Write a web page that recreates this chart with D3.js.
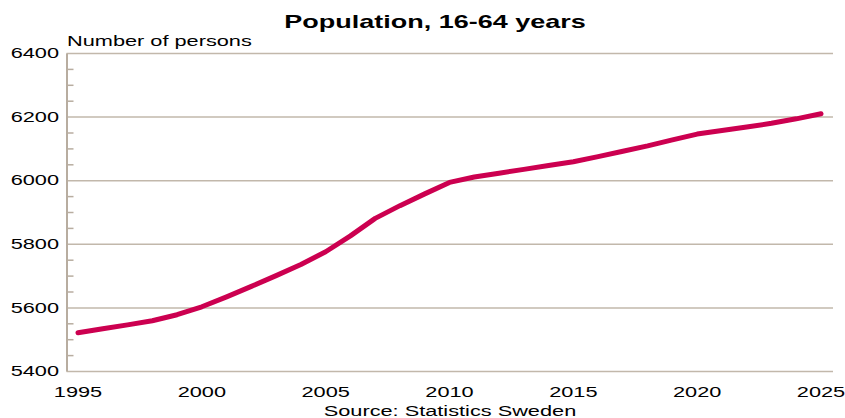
<!DOCTYPE html>
<html>
<head>
<meta charset="utf-8">
<script src="https://cdn.jsdelivr.net/npm/d3@7"></script>
<style>
  body { margin: 0; background: #fff; }
  text { font-family: "Liberation Sans", Arial, sans-serif; fill: #000; }
</style>
</head>
<body>
<script>
// data
var years = [1995, 1996, 1997, 1998, 1999, 2000, 2001, 2002, 2003, 2004, 2005,
             2006, 2007, 2008, 2009, 2010, 2011, 2012, 2013, 2014, 2015,
             2016, 2017, 2018, 2019, 2020, 2021, 2022, 2023, 2024, 2025];
var population = [5520, 5533, 5545, 5558, 5577, 5602, 5633, 5666, 5700, 5735, 5775,
                  5825, 5880, 5920, 5957, 5993, 6010, 6022, 6034, 6046, 6058,
                  6074, 6091, 6108, 6127, 6145, 6156, 6167, 6179, 6193, 6209];
var xTicks = [1995, 2000, 2005, 2010, 2015, 2020, 2025];
var yTicks = [5400, 5600, 5800, 6000, 6200, 6400];

var W = 845, H = 418;
var sx = 1.5; // text in the original is stretched horizontally

var x = d3.scaleLinear().domain([1995, 2025]).range([78, 821]);
var y = d3.scaleLinear().domain([5400, 6400]).range([371, 53]);
var axisLeftX = 66.5, plotRight = 833;

var svg = d3.select("body").append("svg")
  .attr("width", W)
  .attr("height", H);

// horizontal grid lines
var grid = svg.append("g")
  .attr("transform", "translate(" + axisLeftX + ",0)")
  .call(d3.axisLeft(y).tickValues(yTicks).tickSize(-(plotRight - axisLeftX)).tickFormat(""));
grid.select(".domain").remove();
grid.selectAll("line").attr("stroke", "#c2b8ab").attr("stroke-width", 1.5);

// minor ticks on the y axis (every 50)
var minor = d3.range(5450, 6400, 50).filter(function(d) { return d % 200 != 0; });
var mt = svg.append("g")
  .attr("transform", "translate(" + axisLeftX + ",0)")
  .call(d3.axisLeft(y).tickValues(minor).tickSize(-7).tickFormat(""));
mt.select(".domain").remove();
mt.selectAll("line").attr("stroke", "#b8ada0").attr("stroke-width", 1.5);

// y axis with labels
var ya = svg.append("g")
  .attr("transform", "translate(" + axisLeftX + ",0)")
  .call(d3.axisLeft(y).tickValues(yTicks).tickSize(0).tickSizeOuter(0).tickFormat(d3.format("d")));
ya.select(".domain").attr("stroke", "#b8ada0").attr("stroke-width", 2);
ya.selectAll("text")
  .attr("x", -7.5 / sx)
  .attr("transform", "scale(" + sx + ",1)")
  .style("font-size", "14.5px")
  .attr("fill", "#000");

// x axis labels
var xa = svg.append("g")
  .attr("transform", "translate(0,371)")
  .call(d3.axisBottom(x).tickValues(xTicks).tickSize(0).tickFormat(d3.format("d")));
xa.select(".domain").remove();
xa.selectAll("text")
  .attr("y", 26)
  .attr("dy", 0)
  .attr("transform", "scale(" + sx + ",1)")
  .style("font-size", "14.5px")
  .attr("fill", "#000");
xa.selectAll(".tick").each(function(d) {
  d3.select(this).attr("transform", "translate(" + x(d) + ",0)");
});

// the line
var line = d3.line()
  .x(function(d, i) { return x(years[i]); })
  .y(function(d) { return y(d); });

svg.append("path")
  .datum(population)
  .attr("d", line)
  .attr("fill", "none")
  .attr("stroke", "#cc0050")
  .attr("stroke-width", 5)
  .attr("stroke-linecap", "round")
  .attr("stroke-linejoin", "round");

// texts
svg.append("text")
  .attr("x", 435 / sx)
  .attr("y", 28)
  .attr("text-anchor", "middle")
  .attr("transform", "scale(" + sx + ",1)")
  .style("font-size", "18px")
  .style("font-weight", "bold")
  .text("Population, 16-64 years");

svg.append("text")
  .attr("x", 67 / sx)
  .attr("y", 46)
  .attr("transform", "scale(" + sx + ",1)")
  .style("font-size", "14.5px")
  .text("Number of persons");

svg.append("text")
  .attr("x", 450 / sx)
  .attr("y", 416)
  .attr("text-anchor", "middle")
  .attr("transform", "scale(" + sx + ",1)")
  .style("font-size", "14.5px")
  .text("Source: Statistics Sweden");
</script>
</body>
</html>
